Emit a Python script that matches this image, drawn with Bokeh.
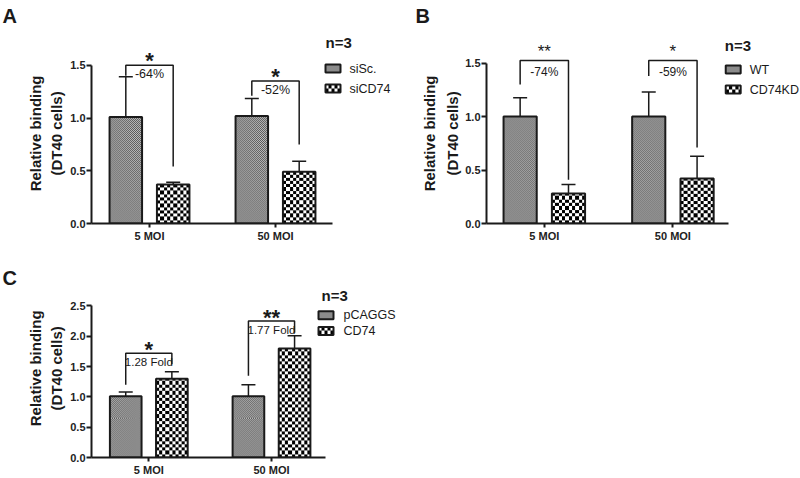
import numpy as np
from bokeh.plotting import figure
from bokeh.models import (Range1d, FixedTicker, Label, ColumnDataSource, Whisker,
                          TeeHead, PrintfTickFormatter)
from bokeh.layouts import column, row
from bokeh.embed import file_html
from bokeh.resources import INLINE
from bokeh.core.properties import value

# ---------------- data ----------------
categories = ["5 MOI", "50 MOI"]

a_series = ["siSc.", "siCD74"]
a_ctrl = [1.01, 1.02]
a_ctrl_err = [0.38, 0.165]
a_trt = [0.37, 0.49]
a_trt_err = [0.02, 0.10]
a_brk_top = [1.50, 1.35]
a_brk_left = [1.40, 1.21]
a_brk_right = [0.54, 0.75]
a_change = ["-64%", "-52%"]
a_stars = ["*", "*"]
a_yticks = [0.0, 0.5, 1.0, 1.5]

b_series = ["WT", "CD74KD"]
b_ctrl = [1.00, 1.00]
b_ctrl_err = [0.177, 0.23]
b_trt = [0.28, 0.42]
b_trt_err = [0.085, 0.21]
b_brk_top = [1.525, 1.525]
b_brk_left = [1.30, 1.38]
b_brk_right = [0.41, 0.71]
b_change = ["-74%", "-59%"]
b_stars = ["**", "*"]
b_yticks = [0.0, 0.5, 1.0, 1.5]

c_series = ["pCAGGS", "CD74"]
c_ctrl = [1.01, 1.01]
c_ctrl_err = [0.07, 0.19]
c_trt = [1.30, 1.80]
c_trt_err = [0.115, 0.21]
c_brk_top = [1.72, 2.25]
c_brk_left = [1.20, 1.35]
c_brk_right = [1.54, 2.06]
c_change = ["1.28 Fold", "1.77 Fold"]
c_stars = ["*", "**"]
c_yticks = [0.0, 0.5, 1.0, 1.5, 2.0, 2.5]

legend_title = "n=3"
y_label_1 = "Relative binding"
y_label_2 = "(DT40 cells)"

FONT = "Liberation Sans"
INK = "#1a1a1a"
# texture styles: (cell size px, dark grey, light grey) for fine texture and coarse checker
TEX = [(1.0, 88, 190), (3.3, 0, 255)]


def checker(nrows, ncols, dark, light):
    ii, jj = np.indices((nrows, ncols))
    mask = (ii + jj) % 2 == 0
    img = np.empty((nrows, ncols, 4), dtype=np.uint8)
    img[..., 3] = 255
    img[mask, :3] = dark
    img[~mask, :3] = light
    return img.view(np.uint32).reshape(nrows, ncols)


def textured(p, which, xpos, bottoms, tops, w_data, xs, ys):
    """draw the checker texture inside each bar (0 = fine, 1 = coarse)"""
    cell, dark, light = TEX[which]
    imgs, lefts, dws, dhs, bots = [], [], [], [], []
    for x, b, t in zip(xpos, bottoms, tops):
        wpx = w_data * xs
        hpx = (t - b) * ys
        imgs.append(checker(max(1, int(round(hpx / cell))),
                            max(1, int(round(wpx / cell))), dark, light))
        lefts.append(x - w_data / 2)
        dws.append(w_data)
        dhs.append(t - b)
        bots.append(b)
    p.image_rgba(image=imgs, x=lefts, y=bots, dw=dws, dh=dhs)


def side_panel(s, letter):
    w, h = s["w"], s["h"]
    p = figure(width=w, height=h, x_range=Range1d(0, w), y_range=Range1d(0, h),
               min_border=0, output_backend="svg", toolbar_location=None, tools="",
               x_axis_type=None, y_axis_type=None)
    p.outline_line_color = None
    p.xgrid.visible = False
    p.ygrid.visible = False
    L = s["left"]
    T = s["top"]
    p.text(x=[s["letter_x"] - L], y=[h - (s["letter_base"] - T)], text=[letter],
           text_baseline="alphabetic", text_align="left", text_font=value(FONT),
           text_font_size=value("20px"), text_font_style=value("bold"), text_color=INK)
    p.text(x=[s["ylab_x"][0] - L, s["ylab_x"][1] - L],
           y=[h - (s["ylab_y"] - T)] * 2, text=[y_label_1, y_label_2],
           angle=np.pi / 2, text_align="center", text_baseline="middle",
           text_font=value(FONT), text_font_size=value("15px"),
           text_font_style=value("bold"), text_color=INK)
    return p


def make_panel(g, series, ctrl, ctrl_err, trt, trt_err, brk_top, brk_left,
               brk_right, change, stars, yticks):
    W, H = g["w"], g["h"]
    bl = g["frame_left"] - g["fig_left"]
    bb = g["fig_top"] + H - g["frame_bottom"]
    frame_w = W - bl
    frame_h = g["frame_bottom"] - g["fig_top"]
    xs, ys = g["xscale"], g["yscale"]
    x0 = 1 - (g["tick1"] - g["frame_left"]) / xs
    x1 = x0 + frame_w / xs
    y1 = frame_h / ys

    def dx(px):
        return x0 + (px - g["frame_left"]) / xs

    def dy(py):
        return (g["frame_bottom"] - py) / ys

    p = figure(width=W, height=H, x_range=Range1d(x0, x1), y_range=Range1d(0, y1),
               min_border_left=bl, min_border_right=0, min_border_top=0,
               min_border_bottom=bb, output_backend="svg", toolbar_location=None,
               tools="")
    p.outline_line_color = None
    p.xgrid.visible = False
    p.ygrid.visible = False

    for ax in (p.xaxis[0], p.yaxis[0]):
        ax.axis_line_width = 2
        ax.axis_line_color = INK
        ax.major_tick_line_width = 2
        ax.major_tick_line_color = INK
        ax.major_tick_in = 0
        ax.minor_tick_line_color = None
        ax.major_label_text_font = FONT
        ax.major_label_text_font_style = "bold"
        ax.major_label_text_font_size = "11px"
        ax.major_label_text_color = "#222222"
    p.xaxis.bounds = (x0, x0 + g["axis_len"] / xs)
    p.xaxis.ticker = FixedTicker(ticks=list(range(1, len(categories) + 1)))
    p.xaxis.major_label_overrides = {i + 1: c for i, c in enumerate(categories)}
    p.xaxis.major_tick_out = 4
    p.xaxis.major_label_standoff = 2
    p.yaxis.bounds = (0, yticks[-1])
    p.yaxis.ticker = FixedTicker(ticks=yticks)
    p.yaxis.formatter = PrintfTickFormatter(format="%.1f")
    p.yaxis.major_tick_out = 5
    p.yaxis.major_label_standoff = 1

    xc = np.arange(1, len(categories) + 1, dtype=float)
    off, bw = 0.188, 0.258
    xl, xr = xc - off, xc + off

    for which, (xpos, vals, errs) in enumerate(((xl, ctrl, ctrl_err), (xr, trt, trt_err))):
        vals = np.array(vals, dtype=float)
        errs = np.array(errs, dtype=float)
        src = ColumnDataSource(dict(x=xpos, top=vals, lo=vals, hi=vals + errs))
        textured(p, which, xpos, np.zeros(len(vals)), vals, bw, xs, ys)
        p.vbar(x="x", top="top", width=bw, bottom=0, source=src, line_color=INK,
               line_width=2, fill_color=None)
        p.add_layout(Whisker(base="x", lower="lo", upper="hi", source=src,
                             line_width=1.5, line_color=INK, lower_head=None,
                             upper_head=TeeHead(size=14, line_width=1.5,
                                                line_color=INK)))

    bxs = [[a, a, b, b] for a, b in zip(xl, xr)]
    bys = [[l, t, t, r] for l, t, r in zip(brk_left, brk_top, brk_right)]
    p.multi_line(xs=bxs, ys=bys, line_color=INK, line_width=1.5)
    p.text(x=xc, y=brk_top, text=change, text_align="center", text_baseline="middle",
           y_offset=g["chg_off"], text_font=value(FONT),
           text_font_size=value(g["chg_size"]), text_color=INK)
    p.text(x=xc, y=brk_top, text=stars, text_align="center",
           text_baseline="alphabetic", y_offset=g["star_off"], text_font=value(FONT),
           text_font_size=value(g["star_size"]), text_font_style=value(g["star_style"]),
           text_color=INK)

    lg = g["legend"]
    p.add_layout(Label(x=dx(lg["title_x"]), y=dy(lg["title_y"]), text=legend_title,
                       text_font=FONT, text_font_size="15px", text_font_style="bold",
                       text_baseline="middle", text_color=INK))
    sw_w, sw_h = 15, 8
    for i, name in enumerate(series):
        cy = lg["item_y"][i]
        yb, yt = dy(cy + sw_h / 2), dy(cy - sw_h / 2)
        xm = dx(lg["sw_x"])
        textured(p, i, [xm], [yb], [yt], sw_w / xs, xs, ys)
        p.vbar(x=[xm], top=[yt], bottom=[yb], width=sw_w / xs, line_color=INK,
               line_width=2, fill_color=None)
        p.add_layout(Label(x=dx(lg["text_x"]), y=dy(cy), text=name, text_font=FONT,
                           text_font_size="12.5px", text_baseline="middle",
                           text_color=INK))
    return p


side_a = dict(left=0, top=0, w=66, h=245, letter_x=2, letter_base=17,
              ylab_x=[35, 56], ylab_y=146)
geo_a = dict(fig_left=66, fig_top=0, w=334, h=245, frame_left=91, frame_bottom=223,
             xscale=126, tick1=149, axis_len=241, yscale=105.5,
             chg_off=9, chg_size="12.5px", star_off=-5, star_size="22px",
             star_style="bold",
             legend=dict(title_x=325, title_y=42, sw_x=332.5, text_x=349,
                         item_y=[68, 88]))
side_b = dict(left=400, top=0, w=62, h=245, letter_x=415, letter_base=17,
              ylab_x=[429, 452], ylab_y=146)
geo_b = dict(fig_left=462, fig_top=0, w=338, h=245, frame_left=485, frame_bottom=223,
             xscale=129, tick1=543, axis_len=243, yscale=106.9,
             chg_off=12, chg_size="12px", star_off=-9, star_size="17px",
             star_style="normal",
             legend=dict(title_x=724, title_y=45, sw_x=732.5, text_x=749,
                         item_y=[69, 89]))
side_c = dict(left=0, top=245, w=66, h=233, letter_x=2, letter_base=281,
              ylab_x=[35, 56], ylab_y=380)
geo_c = dict(fig_left=66, fig_top=245, w=334, h=233, frame_left=91, frame_bottom=458,
             xscale=122.7, tick1=148.3, axis_len=234, yscale=60.9,
             chg_off=9, chg_size="11.5px", star_off=-4, star_size="22px",
             star_style="bold",
             legend=dict(title_x=321, title_y=295, sw_x=325.5, text_x=343,
                         item_y=[315, 331]))

pA = make_panel(geo_a, a_series, a_ctrl, a_ctrl_err, a_trt, a_trt_err,
                a_brk_top, a_brk_left, a_brk_right, a_change, a_stars, a_yticks)
pB = make_panel(geo_b, b_series, b_ctrl, b_ctrl_err, b_trt, b_trt_err,
                b_brk_top, b_brk_left, b_brk_right, b_change, b_stars, b_yticks)
pC = make_panel(geo_c, c_series, c_ctrl, c_ctrl_err, c_trt, c_trt_err,
                c_brk_top, c_brk_left, c_brk_right, c_change, c_stars, c_yticks)

layout = column(row(side_panel(side_a, "A"), pA, side_panel(side_b, "B"), pB),
                row(side_panel(side_c, "C"), pC))
open("out.html", "w").write(file_html(layout, INLINE))
